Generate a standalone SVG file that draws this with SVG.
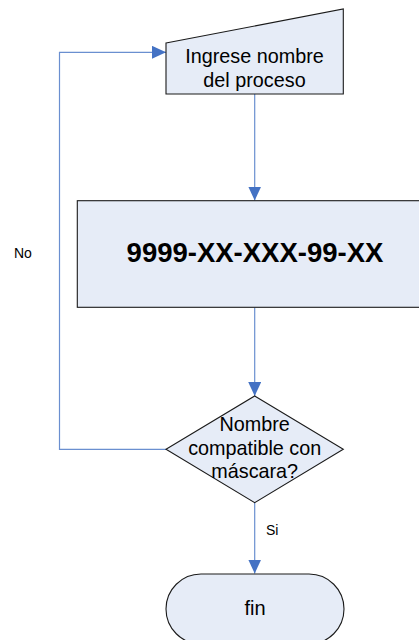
<svg xmlns="http://www.w3.org/2000/svg" width="419" height="640" viewBox="0 0 419 640">
  <style>
    .shape { fill: #E6ECF7; stroke: #1a1a1a; stroke-width: 1.1; }
    .label { font-family: "Liberation Sans", Arial, sans-serif; fill: #000; text-anchor: middle; }
    .conn { fill: none; stroke: #6A8FD0; stroke-width: 1.2; }
    .small { font-family: "Liberation Sans", Arial, sans-serif; font-size: 14px; fill: #000; }
  </style>
  <defs>
    <marker id="arrow" viewBox="0 0 14 13" refX="14" refY="6.5" markerWidth="14" markerHeight="13" markerUnits="userSpaceOnUse" orient="auto">
      <path d="M0,0 L14,6.5 L0,13 Z" fill="#4472C4"/>
    </marker>
  </defs>
  <rect width="419" height="640" fill="#fff"/>

  <!-- connectors -->
  <g id="connectors">
    <line class="conn" x1="254.7" y1="94" x2="254.7" y2="200.5" marker-end="url(#arrow)"/>
    <line class="conn" x1="254.7" y1="307.5" x2="254.7" y2="396" marker-end="url(#arrow)"/>
    <polyline class="conn" points="166,449.3 59.5,449.3 59.5,52.3 166,52.3" marker-end="url(#arrow)"/>
    <line class="conn" x1="254.7" y1="503" x2="254.7" y2="573.5" marker-end="url(#arrow)"/>
    <text class="small" x="14" y="258">No</text>
    <text class="small" x="266" y="535">Si</text>
  </g>

  <!-- manual input -->
  <g id="input">
    <polygon class="shape" points="166,43 343.3,9 343.3,94 166,94"/>
    <text class="label" font-size="19.8" x="254.5" y="63.3">Ingrese nombre</text>
    <text class="label" font-size="19.8" x="254.5" y="86.7">del proceso</text>
  </g>

  <!-- mask process -->
  <g id="mask">
    <rect class="shape" x="77.3" y="200.7" width="360" height="106.6"/>
    <text class="label" font-size="27.5" font-weight="bold" x="255" y="262">9999-XX-XXX-99-XX</text>
  </g>

  <!-- decision -->
  <g id="decision">
    <polygon class="shape" points="254.7,396 343.3,449.3 254.7,502.7 166,449.3"/>
    <text class="label" font-size="19.8" x="254.7" y="431">Nombre</text>
    <text class="label" font-size="19.8" x="254.7" y="455">compatible con</text>
    <text class="label" font-size="19.8" x="254.7" y="478.3">máscara?</text>
  </g>

  <!-- terminator -->
  <g id="end">
    <rect class="shape" x="166" y="574" width="178" height="70" rx="35" ry="35"/>
    <text class="label" font-size="20" x="255" y="615">fin</text>
  </g>
</svg>
